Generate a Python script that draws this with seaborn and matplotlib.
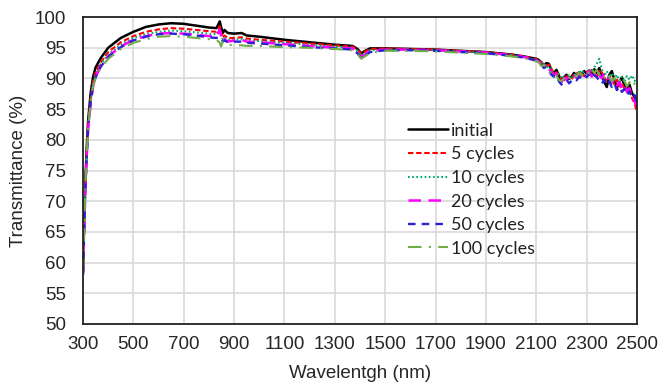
import matplotlib
matplotlib.use("Agg")
import matplotlib.pyplot as plt
import seaborn as sns
import pandas as pd

wavelength = [300, 303, 306, 310, 315, 320, 330, 340, 350, 370,
              400, 450, 500, 550, 600, 650, 700, 750, 800,
              830, 843, 848, 855, 862, 875, 900, 930, 950,
              1000, 1100, 1200, 1300, 1370, 1390, 1405, 1420, 1440,
              1500, 1600, 1700, 1800, 1900, 2000, 2050,
              2100, 2110, 2120, 2130, 2140, 2150, 2160, 2170, 2180, 2190,
              2200, 2210, 2220, 2230, 2240, 2250, 2260, 2270, 2280, 2290,
              2300, 2310, 2320, 2330, 2340, 2350, 2360, 2370, 2380, 2390,
              2400, 2410, 2420, 2430, 2440, 2450, 2460, 2470, 2480, 2490, 2500]

initial = [58.5, 64.0, 69.0, 74.0, 79.0, 83.0, 87.5, 90.3, 91.8, 93.3,
           95.0, 96.6, 97.6, 98.4, 98.8, 99.0, 98.9, 98.6, 98.3,
           98.2, 99.3, 98.4, 97.4, 97.9, 97.4, 97.3, 97.4, 97.0,
           96.8, 96.3, 95.9, 95.5, 95.3, 94.8, 94.1, 94.5, 94.9,
           94.9, 94.8, 94.7, 94.5, 94.3, 93.9, 93.6,
           93.2, 93.0, 92.6, 92.1, 92.5, 92.4, 91.3, 90.9, 91.4, 90.4,
           89.8, 90.2, 90.6, 89.9, 90.3, 90.9, 90.4, 91.0, 90.6, 91.2,
           90.8, 91.3, 90.5, 91.5, 90.9, 91.7, 90.6, 89.4, 88.6, 90.6,
           91.2, 89.8, 88.5, 89.4, 90.2, 88.8, 88.0, 89.0, 87.6, 87.0, 86.2]

cycles_5 = [58.5, 63.5, 68.5, 73.5, 78.5, 82.5, 86.8, 89.6, 91.0, 92.6,
            94.3, 95.9, 96.9, 97.6, 98.0, 98.2, 98.1, 97.9, 97.7,
            97.6, 98.5, 97.6, 96.6, 97.0, 96.6, 96.6, 96.7, 96.5,
            96.3, 96.0, 95.7, 95.4, 95.2, 94.7, 94.0, 94.4, 94.8,
            94.9, 94.8, 94.7, 94.5, 94.3, 93.9, 93.6,
            93.1, 92.8, 92.7, 92.2, 91.9, 92.3, 91.6, 90.7, 91.0, 90.6,
            89.9, 89.7, 90.4, 90.1, 89.8, 90.6, 90.9, 90.3, 90.8, 90.4,
            91.1, 90.6, 91.4, 90.8, 90.3, 91.2, 91.0, 90.1, 89.6, 90.5,
            89.9, 89.0, 89.8, 88.7, 89.3, 88.4, 87.8, 88.6, 86.8, 85.9, 84.5]

cycles_10 = [58.5, 63.0, 68.0, 73.0, 78.0, 82.0, 86.3, 89.2, 90.6, 92.3,
             93.9, 95.5, 96.6, 97.2, 97.6, 97.8, 97.7, 97.5, 97.3,
             97.2, 97.9, 97.0, 96.4, 96.7, 96.3, 96.3, 96.4, 96.2,
             96.1, 95.8, 95.5, 95.2, 95.0, 94.5, 93.7, 94.1, 94.6,
             94.7, 94.7, 94.6, 94.4, 94.2, 93.8, 93.5,
             93.0, 92.9, 92.4, 92.6, 91.8, 92.0, 91.2, 91.0, 90.5, 90.8,
             90.0, 90.3, 89.9, 90.5, 90.2, 90.4, 91.0, 90.7, 91.3, 90.9,
             90.6, 91.5, 91.0, 91.8, 92.4, 93.2, 91.5, 90.4, 91.2, 90.2,
             90.9, 89.9, 90.6, 89.6, 90.3, 89.4, 90.4, 89.8, 90.5, 89.6, 90.2]

cycles_20 = [58.0, 62.5, 67.5, 72.5, 77.5, 81.5, 85.8, 88.7, 90.2, 92.0,
             93.6, 95.2, 96.3, 96.9, 97.3, 97.4, 97.3, 97.1, 96.9,
             96.8, 98.0, 97.0, 96.0, 96.4, 96.0, 96.2, 96.3, 96.0,
             95.9, 95.6, 95.3, 95.0, 94.9, 94.3, 93.5, 93.9, 94.5,
             94.7, 94.7, 94.6, 94.4, 94.2, 93.8, 93.5,
             93.0, 92.7, 92.3, 92.0, 92.4, 91.5, 91.1, 90.5, 90.8, 89.9,
             89.4, 90.1, 89.8, 90.3, 90.0, 90.5, 90.1, 90.8, 90.4, 91.0,
             90.7, 91.2, 90.3, 90.9, 91.3, 90.5, 90.0, 90.8, 89.8, 90.2,
             89.3, 89.9, 88.8, 89.5, 88.3, 88.9, 87.8, 88.4, 87.0, 86.3, 85.3]

cycles_50 = [58.3, 62.8, 67.8, 72.8, 77.8, 81.8, 86.0, 88.8, 90.2, 91.9,
             93.5, 95.1, 96.2, 96.8, 97.2, 97.3, 97.2, 97.0, 96.7,
             96.6, 96.8, 96.4, 96.0, 96.2, 95.9, 96.0, 96.0, 95.8,
             95.7, 95.4, 95.1, 94.9, 94.7, 94.1, 93.3, 93.7, 94.3,
             94.6, 94.6, 94.5, 94.3, 94.1, 93.7, 93.4,
             92.9, 92.6, 92.3, 91.7, 91.9, 91.3, 90.6, 90.3, 90.5, 89.5,
             89.0, 89.4, 89.8, 89.2, 89.6, 90.0, 89.7, 90.3, 89.9, 90.5,
             90.2, 90.7, 90.1, 90.6, 90.2, 89.7, 89.1, 89.8, 88.9, 89.5,
             88.6, 89.2, 88.1, 88.7, 87.8, 88.3, 87.3, 87.9, 86.8, 87.3, 86.2]

cycles_100 = [58.5, 63.0, 68.0, 73.0, 78.0, 82.0, 86.0, 88.8, 90.1, 91.7,
              93.2, 94.8, 95.8, 96.4, 96.8, 96.9, 96.8, 96.6, 96.4,
              96.3, 95.8, 95.2, 96.0, 95.9, 95.5, 95.4, 95.4, 95.3,
              95.3, 95.1, 95.0, 94.8, 94.6, 94.0, 93.2, 93.6, 94.2,
              94.5, 94.5, 94.4, 94.2, 94.0, 93.6, 93.3,
              92.8, 92.6, 92.0, 92.2, 91.6, 91.1, 90.9, 90.2, 90.5, 89.7,
              89.6, 90.0, 89.5, 90.1, 89.9, 90.7, 90.3, 91.0, 90.5, 91.1,
              91.3, 90.8, 91.6, 90.9, 91.4, 90.6, 91.0, 90.2, 89.6, 90.3,
              89.5, 90.1, 89.2, 89.8, 89.0, 89.6, 88.7, 89.4, 88.6, 89.2, 88.5]

series_labels = ["initial", "5 cycles", "10 cycles", "20 cycles", "50 cycles", "100 cycles"]
series_values = [initial, cycles_5, cycles_10, cycles_20, cycles_50, cycles_100]
x_ticks = [300, 500, 700, 900, 1100, 1300, 1500, 1700, 1900, 2100, 2300, 2500]
y_ticks = [50, 55, 60, 65, 70, 75, 80, 85, 90, 95, 100]

colors = ["#000000", "#ff0000", "#00a868", "#ff00ff", "#2b22d6", "#70ad47"]
widths = [1.8, 1.5, 1.5, 1.8, 1.7, 1.5]
styles = ["-", (0, (2.6, 1.3)), (0, (0.8, 1.2)), (0, (5, 3)), (0, (3.2, 2.6)), (0, (6.5, 3.5, 1, 3.5))]

sns.set_style("white")
plt.rcParams["font.family"] = ["Liberation Sans", "DejaVu Sans"]

fig = plt.figure(figsize=(6.6, 3.88), dpi=100)
ax = fig.add_axes([0.1258, 0.165, 0.8394, 0.791])

for lab, vals, c, lw, ls in zip(series_labels, series_values, colors, widths, styles):
    df = pd.DataFrame({"Wavelength": wavelength, "T": vals})
    sns.lineplot(data=df, x="Wavelength", y="T", ax=ax, color=c, lw=lw,
                 linestyle=ls, label=lab)

ax.set_xlim(300, 2500)
ax.set_ylim(50, 100)
ax.set_xticks(x_ticks)
ax.set_yticks(y_ticks)
ax.grid(True, color="#d9d9d9", lw=1.2)
ax.set_axisbelow(True)
for s in ax.spines.values():
    s.set_color("#222222")
    s.set_linewidth(1.3)
ax.tick_params(axis="both", length=0, labelsize=13.5, colors="#262626")
ax.tick_params(axis="x", pad=9)
ax.tick_params(axis="y", pad=12)
ax.set_xlabel("Wavelentgh (nm)", fontsize=13.5, color="#262626", labelpad=8)
ax.set_ylabel("Transmittance (%)", fontsize=13.5, color="#262626", labelpad=6)

leg = ax.legend(loc="upper left", bbox_to_anchor=(0.570, 0.685), frameon=False,
                borderpad=0, handlelength=2.2, handletextpad=0.2,
                labelspacing=0.42, prop={"family": ["Lato", "DejaVu Sans"], "size": 13})
for t in leg.get_texts():
    t.set_color("#222222")

fig.savefig("out.png", dpi=100)
